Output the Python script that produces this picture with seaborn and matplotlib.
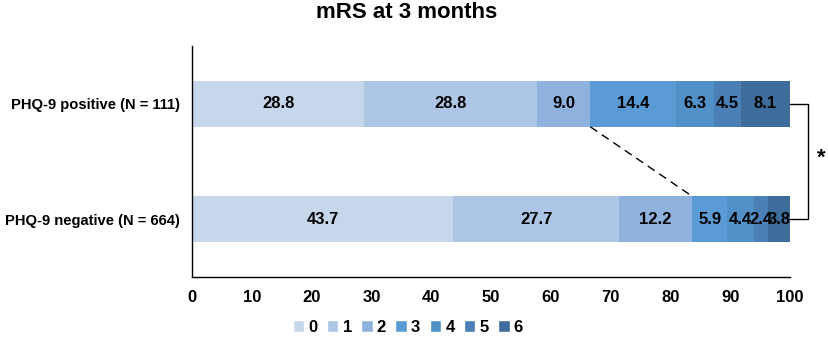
import numpy as np
import pandas as pd
import matplotlib
matplotlib.use('Agg')
import matplotlib.pyplot as plt
import seaborn as sns
from matplotlib.patches import Patch

# dados
grupos = ['PHQ-9 positive (N = 111)', 'PHQ-9 negative (N = 664)']
niveis = ['0', '1', '2', '3', '4', '5', '6']
positivo = [28.8, 28.8, 9.0, 14.4, 6.3, 4.5, 8.1]
negativo = [43.7, 27.7, 12.2, 5.9, 4.4, 2.4, 3.8]
cores = ['#c6d7ec', '#aec6e6', '#8fb1de', '#5b9bd5', '#5290c8', '#4a80b6', '#3e6c9b']

sns.set_style('white')
plt.rcParams['font.family'] = ['Liberation Sans', 'DejaVu Sans']
plt.rcParams['font.weight'] = 'bold'
plt.rcParams['text.color'] = 'black'
plt.rcParams['xtick.color'] = 'black'
plt.rcParams['ytick.color'] = 'black'

df = pd.DataFrame({'grupo': np.repeat(grupos, len(niveis)),
                   'nivel': niveis * 2,
                   'valor': positivo + negativo})
df['acum'] = df.groupby('grupo', sort=False)['valor'].cumsum()
df['inicio'] = df['acum'] - df['valor']

fig = plt.figure(figsize=(8.29, 3.4), dpi=100)
ax = fig.add_axes([0.2316, 0.185, 0.7215, 0.68])

# barras empilhadas: desenha do maior acumulado para o menor
for i in range(len(niveis) - 1, -1, -1):
    sub = df[df['nivel'] == niveis[i]]
    sns.barplot(data=sub, x='acum', y='grupo', order=grupos, color=cores[i],
                orient='h', width=0.4, ax=ax, saturation=1, linewidth=0)

for _, r in df.iterrows():
    yi = grupos.index(r['grupo'])
    ax.text(r['inicio'] + r['valor'] / 2, yi, f"{r['valor']:.1f}", ha='center', va='center',
            fontsize=12, fontweight='bold', color='black')

# linha tracejada entre o fim do nível 2 de cada grupo
fim2_pos = df[(df['grupo'] == grupos[0]) & (df['nivel'] == '2')]['acum'].iloc[0]
fim2_neg = df[(df['grupo'] == grupos[1]) & (df['nivel'] == '2')]['acum'].iloc[0]
ax.plot([fim2_pos, fim2_neg], [0.2, 0.8], ls=(0, (6, 4)), color='black', lw=1)

# colchete de significancia
ax.plot([100, 103, 103, 100], [0, 0, 1, 1], color='black', lw=1, clip_on=False)
ax.text(105.2, 0.47, '*', fontsize=16, fontweight='bold', ha='center', va='center')

ax.set_xlim(0, 100)
ax.set_ylim(1.5, -0.5)
ax.set_xticks(range(0, 101, 10))
ax.set_xlabel('')
ax.set_ylabel('')
ax.tick_params(axis='y', length=0, labelsize=10.6, pad=8.5)
ax.tick_params(axis='x', length=0, labelsize=12, pad=9)
for lab in ax.get_xticklabels() + ax.get_yticklabels():
    lab.set_fontweight('bold')
sns.despine(ax=ax, top=True, right=True)
for s in ['left', 'bottom']:
    ax.spines[s].set_color('black')
    ax.spines[s].set_linewidth(1)

fig.text(0.49, 0.962, 'mRS at 3 months', ha='center', va='center', fontsize=16, fontweight='bold')

handles = [Patch(facecolor=c, label=n) for c, n in zip(cores, niveis)]
fig.legend(handles=handles, loc='center', bbox_to_anchor=(0.492, 0.038), ncol=7, frameon=False,
           handlelength=0.7, handleheight=0.7, handletextpad=0.25, columnspacing=0.55,
           prop={'size': 12, 'weight': 'bold'})

fig.savefig('out.png', dpi=100)
